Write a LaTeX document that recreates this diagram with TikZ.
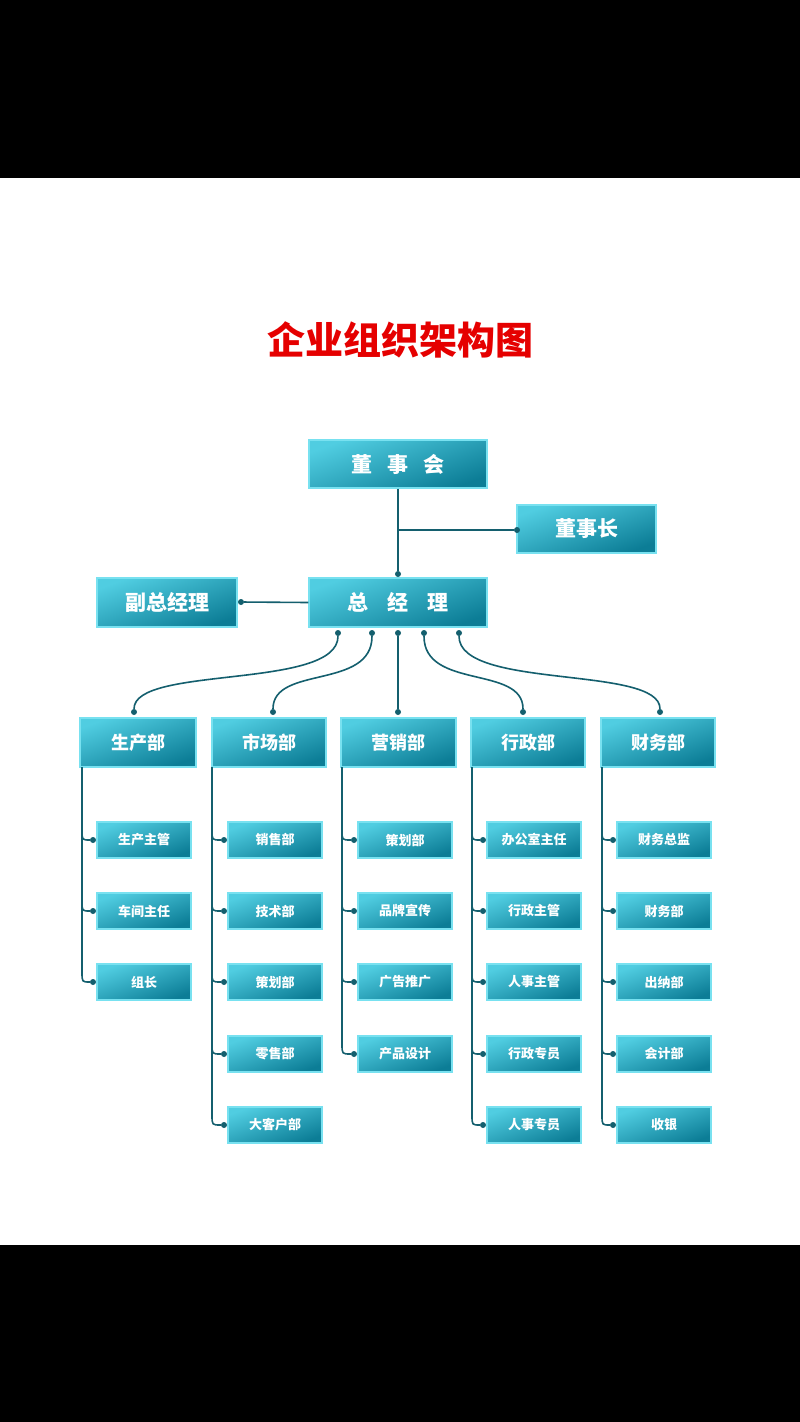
\documentclass[tikz,border=0pt]{standalone}
\usepackage{fontspec}
\newfontfamily\cjk{Noto Sans CJK SC}
\definecolor{bxtop}{RGB}{80,205,225}
\definecolor{bxbot}{RGB}{12,125,150}
\definecolor{bxedge}{RGB}{120,225,240}
\definecolor{lncol}{RGB}{20,95,110}
\begin{document}
\begin{tikzpicture}[x=1pt,y=-1pt,
  box/.style={draw=bxedge,line width=1.4pt,top color=bxtop,bottom color=bxbot,shading angle=20,text=white,font=\cjk\bfseries,inner sep=0pt},
  big/.style={box,font=\cjk\bfseries\fontsize{21}{21}\selectfont},
  mid/.style={box,font=\cjk\bfseries\fontsize{18}{18}\selectfont},
  sm/.style={box,font=\cjk\bfseries\fontsize{13}{13}\selectfont},
  ln/.style={draw=lncol,line width=1.6pt},
  dot/.style={circle,fill=lncol,inner sep=0pt,minimum size=6pt}]
\fill[white] (0,0) rectangle (800,1422);
\fill[black] (0,0) rectangle (800,178);
\fill[black] (0,1245) rectangle (800,1422);
\node[font=\cjk\bfseries\fontsize{38}{38}\selectfont,text=red!90!black] (title) at (400,340) {企业组织架构图};
\newcommand\bx[7]{\node[#1,minimum width=#4-#2,minimum height=#5-#3] (#6) at ({(#2+#4)/2},{(#3+#5)/2}) {#7};}
\bx{big}{309}{440}{487}{488}{dsh}{董\hspace{0.7em}事\hspace{0.7em}会}
\bx{big}{517}{505}{656}{553}{dsz}{董事长}
\bx{big}{97}{578}{237}{627}{fzjl}{副总经理}
\bx{big}{309}{578}{487}{627}{zjl}{总\hspace{0.9em}经\hspace{0.9em}理}
\bx{mid}{80}{718}{196}{767}{d1}{生产部}
\bx{mid}{212}{718}{326}{767}{d2}{市场部}
\bx{mid}{341}{718}{456}{767}{d3}{营销部}
\bx{mid}{471}{718}{585}{767}{d4}{行政部}
\bx{mid}{601}{718}{715}{767}{d5}{财务部}
\coordinate (j) at (398,530);
\node[dot] (dz) at (398,574) {};
\node[dot] (dd) at (517,530) {};
\node[dot] (df) at (241,602) {};
\draw[ln] (dsh.south) -- (dz);
\draw[ln] (j) -- (dd);
\draw[ln] (zjl.west) -- (df);
\foreach \i/\sx/\tx in {1/338/134,2/372/273,3/398/398,4/424/523,5/459/660}{
  \node[dot] (s\i) at (\sx,633) {};
  \node[dot] (t\i) at (\tx,712) {};
  \draw[ln] (s\i) .. controls (\sx,690) and (\tx,665) .. (t\i);
}
\foreach \c/\xl/\vx/\lst in {1/97/82/{生产主管,车间主任,组长},2/228/212/{销售部,技术部,策划部,零售部,大客户部},3/358/342/{策划部,品牌宣传,广告推广,产品设计},4/487/472/{办公室主任,行政主管,人事主管,行政专员,人事专员},5/617/602/{财务总监,财务部,出纳部,会计部,收银}}{
  \foreach \t [count=\r] in \lst {
    \pgfmathsetmacro\yy{{822,893,964,1036,1107}[\r-1]}
    \node[sm,minimum width=94,minimum height=36] (c\c r\r) at (\xl+47,\yy+18) {\t};
    \node[dot] (p\c r\r) at (\xl-4,\yy+18) {};
    \draw[ln] (\vx,\yy+8) .. controls (\vx,\yy+18) .. (p\c r\r);
    \xdef\lastr{\r}
  }
  \pgfmathsetmacro\yl{{822,893,964,1036,1107}[\lastr-1]}
  \draw[ln] (\vx,767) -- (\vx,\yl+9);
}
\end{tikzpicture}
\end{document}
